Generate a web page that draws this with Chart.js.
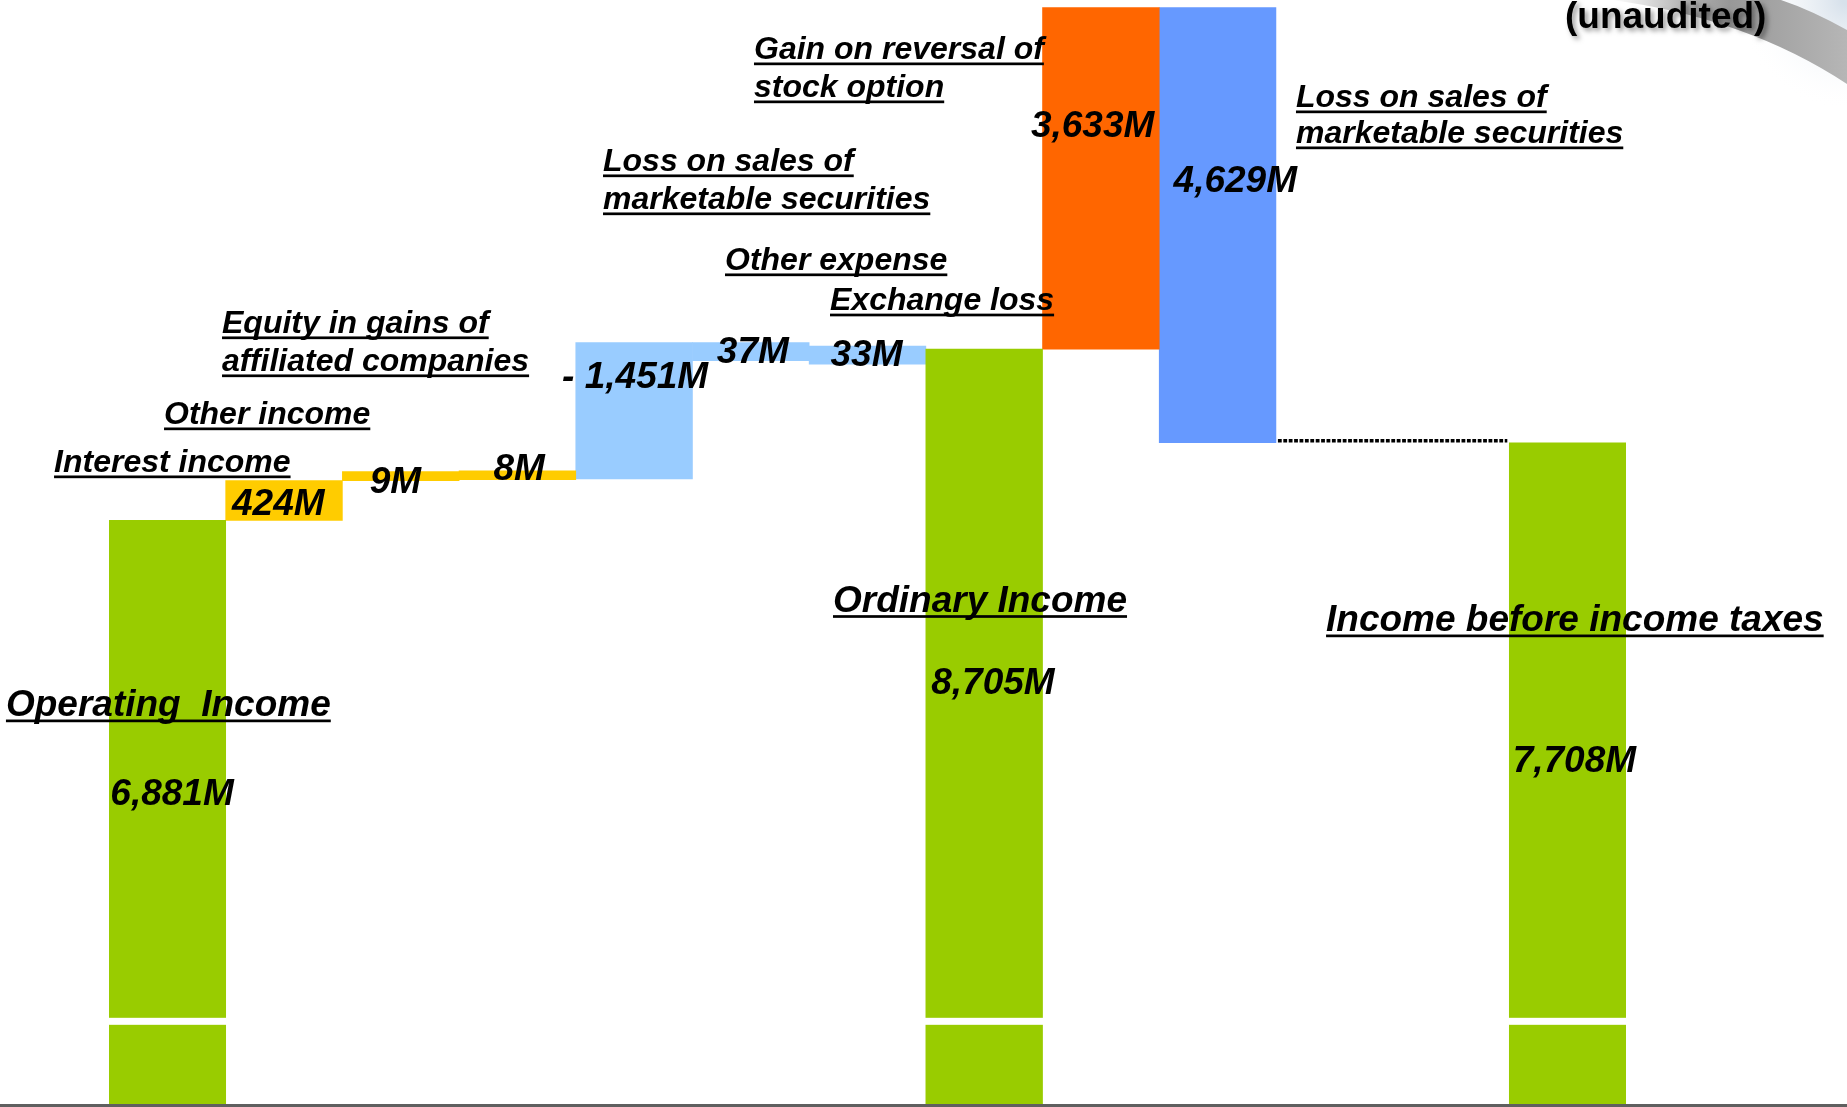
<!DOCTYPE html>
<html>
<head>
<meta charset="utf-8">
<script src="https://cdn.jsdelivr.net/npm/chart.js@4.4.1/dist/chart.umd.min.js"></script>
<style>
  html, body { margin: 0; padding: 0; background: #ffffff; }
  #wrap { width: 1847px; height: 1107px; position: relative; }
</style>
</head>
<body>
<div id="wrap"><canvas id="c"></canvas></div>
<script>
// ---------------- DATA ----------------
const categories = [
  ['Operating  Income'],
  ['Interest income'],
  ['Other income'],
  ['Equity in gains of', 'affiliated companies'],
  ['Loss on sales of', 'marketable securities'],
  ['Other expense'],
  ['Exchange loss'],
  ['Ordinary Income'],
  ['Gain on reversal of', 'stock option'],
  ['Loss on sales of', 'marketable securities'],
  [''],
  [''],
  ['Income before income taxes']
];
// millions of yen; totals are absolute, the others are changes
const amounts = [6881, 424, 9, 8, 1451, -37, -33, 8705, 3633, -4629, null, null, 7708];
const barKinds = ['total', 'income', 'income', 'income', 'nonop', 'nonop', 'nonop', 'total', 'gain', 'loss', null, null, 'total'];
const valueLabels = ['6,881M', '424M', '9M', '8M', '- 1,451M', '37M', '33M', '8,705M', '3,633M', '4,629M', '', '', '7,708M'];

// ---------------- STYLE / LAYOUT ----------------
const kindStyle = {
  total:  { color: '#99CC00', minThickness: 0 },
  income: { color: '#FFCC00', minThickness: 9 },
  nonop:  { color: '#99CCFF', minThickness: 18 },
  gain:   { color: '#FF6600', minThickness: 0 },
  loss:   { color: '#6699FF', minThickness: 0 }
};
// text offsets relative to each bar (dx from bar centre, dy from bar top)
const labelLayout = [
  { dx: -161.4, dy: [195.6],          big: true,  vdx: -57,   vdy: 285 },
  { dx: -230,   dy: [-8.6],           big: false, vdx: -52,   vdy: 34 },
  { dx: -236.7, dy: [-47.6],          big: false, vdx: -31,   vdy: 21.4 },
  { dx: -295.4, dy: [-137.8, -99.8],  big: false, vdx: -24,   vdy: 9.2 },
  { dx: -31.1,  dy: [-171.7, -133.7], big: false, vdx: -72,   vdy: 45.3 },
  { dx: -25.8,  dy: [-72.7],          big: false, vdx: -34,   vdy: 20 },
  { dx: -37.5,  dy: [-36],            big: false, vdx: -37,   vdy: 20 },
  { dx: -151.2, dy: [262.6],          big: true,  vdx: -53,   vdy: 344.9 },
  { dx: -346.9, dy: [51.3, 89.3],     big: false, vdx: -70,   vdy: 129.3 },
  { dx: 78.4,   dy: [99.3, 135.3],    big: false, vdx: -44,   vdy: 184.3 },
  null, null,
  { dx: -241.6, dy: [188.3],          big: true,  vdx: -55,   vdy: 329 }
];
const FONT = "'Liberation Sans', Arial, sans-serif";
const breakValue = 1550;   // where the truncated total bars are visually broken

// ---------------- BUILD SERIES ----------------
let running = 0;
const ranges = amounts.map((v, i) => {
  if (v === null) return null;
  if (barKinds[i] === 'total') { running = v; return v; }
  const start = running;
  running += v;
  return [start, running];
});

const datasets = Object.keys(kindStyle).map(k => ({
  label: k,
  data: ranges.map((r, i) => (barKinds[i] === k ? r : null)),
  backgroundColor: kindStyle[k].color,
  borderWidth: 0,
  grouped: false,
  barPercentage: 1,
  categoryPercentage: 1,
  clip: 0,
  minThickness: kindStyle[k].minThickness
}));

function findBar(chart, idx) {
  for (let d = 0; d < chart.data.datasets.length; d++) {
    const v = chart.data.datasets[d].data[idx];
    if (v !== null && v !== undefined) return chart.getDatasetMeta(d).data[idx];
  }
  return null;
}

// keep small changes visible: minimum thickness, extending in the direction of the change
const minThicknessPlugin = {
  id: 'minThickness',
  afterDatasetsUpdate(chart) {
    const y = chart.scales.y;
    chart.data.datasets.forEach((ds, d) => {
      const minT = ds.minThickness || 0;
      if (!minT) return;
      const meta = chart.getDatasetMeta(d);
      ds.data.forEach((raw, i) => {
        if (!Array.isArray(raw)) return;
        const el = meta.data[i];
        if (!el) return;
        if (Math.abs(el.base - el.y) >= minT) return;
        const sp = y.getPixelForValue(raw[0]);
        if (raw[1] > raw[0]) { el.base = sp; el.y = sp - minT; }
        else { el.y = sp; el.base = sp + minT; }
        el.height = minT;
      });
    });
  }
};

const decorPlugin = {
  id: 'decor',
  beforeDraw(chart) {
    const ctx = chart.ctx;
    const W = chart.width;
    ctx.save();
    ctx.fillStyle = '#ffffff';
    ctx.fillRect(0, 0, chart.width, chart.height);
    // faint light corner above the swoosh
    const cg = ctx.createRadialGradient(W, 0, 5, W, 0, 110);
    cg.addColorStop(0, 'rgba(215,225,235,1)');
    cg.addColorStop(1, 'rgba(255,255,255,0)');
    ctx.fillStyle = cg;
    ctx.fillRect(W - 120, 0, 120, 110);
    ctx.restore();
  },
  afterDatasetsDraw(chart) {
    const ctx = chart.ctx;
    const W = chart.width, H = chart.height;
    const yS = chart.scales.y;
    ctx.save();

    // axis-break gaps on the truncated total bars
    const yb = yS.getPixelForValue(breakValue);
    ctx.fillStyle = '#ffffff';
    barKinds.forEach((k, i) => {
      if (k !== 'total') return;
      const el = findBar(chart, i);
      if (!el) return;
      ctx.fillRect(el.x - el.width / 2 - 1, yb - 3.5, el.width + 2, 7);
    });

    // dotted connector from last change to final total
    const from = findBar(chart, 9), to = findBar(chart, 12);
    if (from && to) {
      const yy = Math.max(from.y, from.base) - 1.8;
      ctx.strokeStyle = '#000000';
      ctx.lineWidth = 3.5;
      ctx.setLineDash([3.8, 1.6]);
      ctx.beginPath();
      ctx.moveTo(from.x + from.width / 2 + 2, yy);
      ctx.lineTo(to.x - to.width / 2 - 2, yy);
      ctx.stroke();
      ctx.setLineDash([]);
    }

    // decorative swoosh (top right)
    const g = ctx.createLinearGradient(W - 235, 0, W, 0);
    g.addColorStop(0, 'rgba(175,175,175,0)');
    g.addColorStop(0.3, 'rgba(160,160,160,0.8)');
    g.addColorStop(0.5, 'rgba(152,152,152,1)');
    g.addColorStop(1, 'rgba(182,182,182,1)');
    ctx.fillStyle = g;
    ctx.beginPath();
    ctx.moveTo(W - 235, 0);
    ctx.quadraticCurveTo(W - 100, 18, W, 84);
    ctx.lineTo(W, 30);
    ctx.quadraticCurveTo(W - 36, 10, W - 66, 0);
    ctx.closePath();
    ctx.fill();

    // category names and values
    ctx.fillStyle = '#000000';
    ctx.textAlign = 'left';
    ctx.textBaseline = 'alphabetic';
    categories.forEach((lines, i) => {
      const lay = labelLayout[i];
      if (!lay) return;
      const el = findBar(chart, i);
      if (!el) return;
      const top = Math.min(el.y, el.base);
      const cx = el.x;
      const size = lay.big ? 37 : 32;
      ctx.font = 'italic bold ' + size + 'px ' + FONT;
      lines.forEach((line, li) => {
        const x = cx + lay.dx;
        const b = top + lay.dy[li];
        ctx.fillText(line, x, b);
        const w = ctx.measureText(line).width;
        ctx.fillRect(x, b + 3.5, w, 2.7);
      });
      if (valueLabels[i]) {
        ctx.font = 'italic bold 37px ' + FONT;
        ctx.fillText(valueLabels[i], cx + lay.vdx, top + lay.vdy);
      }
    });

    // (unaudited)
    ctx.font = 'bold 37px ' + FONT;
    ctx.fillStyle = '#000000';
    ctx.shadowColor = 'rgba(0,0,0,0.4)';
    ctx.shadowBlur = 5;
    ctx.shadowOffsetX = 3;
    ctx.shadowOffsetY = 3;
    ctx.fillText('(unaudited)', W - 282, 28);
    ctx.shadowColor = 'rgba(0,0,0,0)';

    // bottom rule
    ctx.fillStyle = '#5f5f5f';
    ctx.fillRect(0, H - 3, W, 3);
    ctx.restore();
  }
};

new Chart(document.getElementById('c'), {
  type: 'bar',
  data: { labels: categories, datasets: datasets },
  options: {
    responsive: true,
    maintainAspectRatio: false,
    animation: false,
    events: [],
    layout: { padding: { left: 109, right: 221, top: 0, bottom: 3 } },
    plugins: { legend: { display: false }, tooltip: { enabled: false }, title: { display: false } },
    scales: {
      x: { display: false, offset: true, grid: { display: false } },
      y: { display: false, min: 670, max: 12420, grid: { display: false } }
    }
  },
  plugins: [minThicknessPlugin, decorPlugin]
});
</script>
</body>
</html>
